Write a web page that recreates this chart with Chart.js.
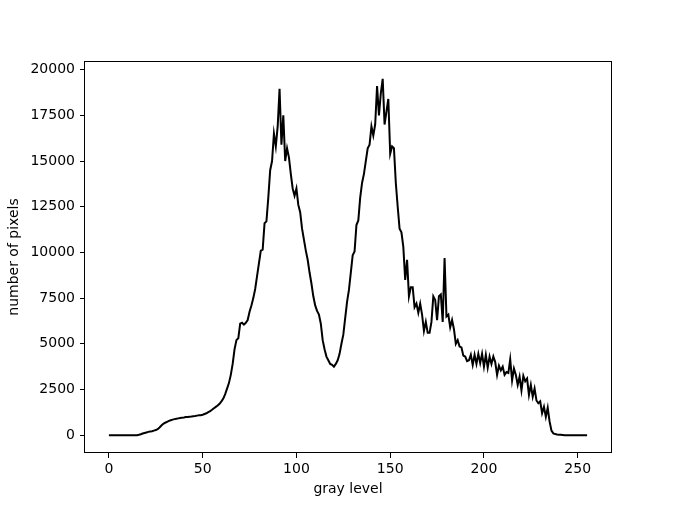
<!DOCTYPE html>
<html>
<head>
<meta charset="utf-8">
<script src="https://cdn.jsdelivr.net/npm/chart.js@4.4.1/dist/chart.umd.min.js"></script>
<style>
  html, body { margin: 0; padding: 0; background: #ffffff; }
  #wrap { width: 678px; height: 509px; }
</style>
</head>
<body>
<div id="wrap"><canvas id="c" width="678" height="509" style="width:678px;height:509px"></canvas></div>
<script>
// gray levels 0..255 (the category axis)
const grayLevels = Array.from({ length: 256 }, (_, i) => i);

// number of pixels per gray level
const pixelCounts = [
  0,0,0,0,0,0,0,0,0,0,
  0,0,0,0,0,0,20,50,90,120,
  150,180,200,220,250,280,330,420,530,620,
  680,730,780,820,850,880,900,920,940,960,
  970,990,1000,1010,1020,1040,1050,1070,1090,1090,
  1120,1160,1200,1260,1320,1390,1470,1550,1620,1720,
  1850,2000,2250,2550,2850,3300,3900,4700,5200,5300,
  6100,6150,6050,6150,6300,6750,7100,7500,8000,8700,
  9400,10100,10150,11600,11700,13000,14500,15000,16500,15800,
  16900,18950,15900,17500,15000,15700,15200,14300,13500,13100,
  13500,12600,12200,11300,10700,10100,9600,8900,8300,7600,
  7100,6800,6600,6100,5200,4700,4300,4100,3900,3850,
  3750,3900,4100,4450,5000,5500,6400,7300,7950,8900,
  9850,10050,11500,11750,13000,13800,14300,15000,15700,15900,
  16900,16400,17000,19100,17500,18700,19500,17000,17700,18400,
  15400,15800,15700,13800,12500,11300,11100,10300,8500,9600,
  7600,8100,8100,7000,7200,6700,7200,6600,5700,6200,
  5600,5600,6200,7600,7400,6300,7600,7700,6200,9700,
  6500,6600,5900,6300,5800,5000,5200,4850,4800,4350,
  4300,4050,4100,4400,3850,4400,3900,4450,3950,4450,
  3750,4400,3700,4300,3900,4300,4000,3300,3800,3550,
  3750,3300,3450,3400,4150,3000,3650,3300,2750,3200,
  2450,3250,2950,3100,2200,2750,2100,2550,1900,1750,
  1850,1200,1550,1000,1500,750,250,100,60,40,
  30,20,10,0,0,0,0,0,0,0,
  0,0,0,0,0,0
];

const xTickValues = [0, 50, 100, 150, 200, 250];
const yTickValues = [0, 2500, 5000, 7500, 10000, 12500, 15000, 17500, 20000];
const xTitle = 'gray level';
const yTitle = 'number of pixels';

// matplotlib-like 5% margins
const xMinD = Math.min(...grayLevels), xMaxD = Math.max(...grayLevels);
const yMinD = Math.min(...pixelCounts), yMaxD = Math.max(...pixelCounts);
const xPad = (xMaxD - xMinD) * 0.05, yPad = (yMaxD - yMinD) * 0.05;

const points = grayLevels.map((g, i) => ({ x: g, y: pixelCounts[i] }));

const font = { family: 'DejaVu Sans', size: 14 };

const framePlugin = {
  id: 'frame',
  afterDraw(chart) {
    const { ctx, chartArea: a } = chart;
    ctx.save();
    ctx.strokeStyle = '#000';
    ctx.lineWidth = 1;
    ctx.strokeRect(Math.round(a.left) - 0.5, Math.round(a.top) + 0.5,
                   Math.round(a.right) - Math.round(a.left) + 1, Math.round(a.bottom) - Math.round(a.top) - 1);
    ctx.restore();
  }
};

new Chart(document.getElementById('c'), {
  type: 'line',
  data: {
    datasets: [{
      data: points,
      borderColor: '#000',
      borderWidth: 2,
      pointRadius: 0,
      tension: 0,
      fill: false
    }]
  },
  options: {
    responsive: false,
    devicePixelRatio: 1,
    animation: false,
    parsing: false,
    layout: { padding: { left: 0, top: 61, right: 67, bottom: 0 } },
    plugins: { legend: { display: false }, tooltip: { enabled: false } },
    scales: {
      x: {
        type: 'linear',
        min: xMinD - xPad,
        max: xMaxD + xPad,
        afterBuildTicks: ax => { ax.ticks = xTickValues.map(v => ({ value: v })); },
        afterFit: ax => { ax.height = 56; },
        grid: { display: true, drawOnChartArea: false, drawTicks: true, tickLength: 5, color: '#000', lineWidth: 1 },
        border: { display: false },
        ticks: { color: '#000', font, padding: 3, maxRotation: 0, autoSkip: false, callback: v => String(v) },
        title: { display: true, text: xTitle, color: '#000', font, padding: { top: 0, bottom: 11 } }
      },
      y: {
        type: 'linear',
        min: yMinD - yPad,
        max: yMaxD + yPad,
        afterBuildTicks: ax => { ax.ticks = yTickValues.map(v => ({ value: v })); },
        afterFit: ax => { ax.width = 85; },
        grid: { display: true, drawOnChartArea: false, drawTicks: true, tickLength: 5, color: '#000', lineWidth: 1 },
        border: { display: false },
        ticks: { color: '#000', font, padding: 5, autoSkip: false, callback: v => String(v) },
        title: { display: true, text: yTitle, color: '#000', font, padding: { top: 6, bottom: 0 } }
      }
    }
  },
  plugins: [framePlugin]
});
</script>
</body>
</html>
